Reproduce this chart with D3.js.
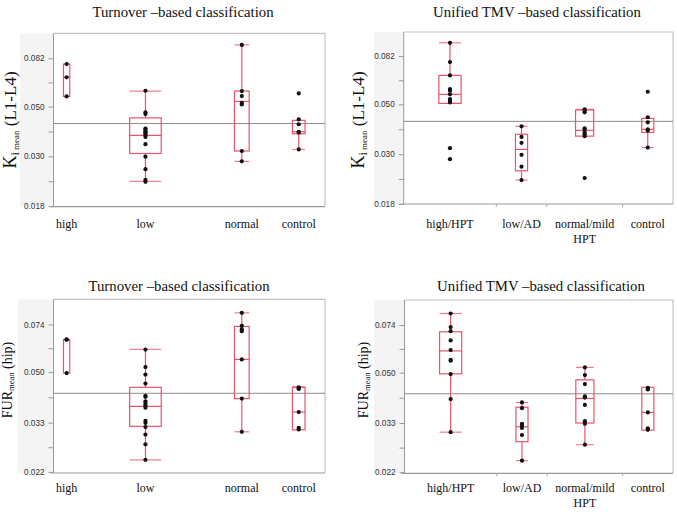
<!DOCTYPE html>
<html><head><meta charset="utf-8">
<script src="https://cdn.jsdelivr.net/npm/d3@7"></script>
<style>
body{margin:0;background:#fff;}
svg{display:block;}
</style></head>
<body>
<svg id="chart" width="677" height="512"></svg>
<script>
// ---------------- DATA ----------------
const catsTurnover = ["high", "low", "normal", "control"];
const catsUnified = ["high/HPT", "low/AD", "normal/mild HPT", "control"];
const nTurnover = [3, 15, 7, 6];
const nUnified = [11, 6, 9, 6];
const ticksKi = [0.018, 0.030, 0.050, 0.082];
const ticksFur = [0.022, 0.033, 0.050, 0.074];
const refKi = 0.0420;
const refFur = 0.0420;

// points per category
const kiTurnoverPoints = [
  [0.0773, 0.0675, 0.0555],
  [0.0588, 0.0471, 0.0463, 0.0399, 0.0395, 0.0388, 0.0383, 0.0378, 0.0373, 0.0366, 0.0340, 0.0299, 0.0263, 0.0236, 0.0231],
  [0.0941, 0.0586, 0.0557, 0.0519, 0.0511, 0.0317, 0.0285],
  [0.0572, 0.0438, 0.0417, 0.0386, 0.0383, 0.0322]
];
const kiUnifiedPoints = [
  [0.0940, 0.0771, 0.0673, 0.0585, 0.0575, 0.0554, 0.0528, 0.0519, 0.0510, 0.0319, 0.0285],
  [0.0399, 0.0358, 0.0337, 0.0298, 0.0264, 0.0230],
  [0.0475, 0.0468, 0.0461, 0.0391, 0.0384, 0.0374, 0.0368, 0.0361, 0.0235],
  [0.0569, 0.0438, 0.0416, 0.0387, 0.0382, 0.0321]
];
const furTurnoverPoints = [
  [0.0655, 0.0652, 0.0496],
  [0.0602, 0.0521, 0.0490, 0.0455, 0.0411, 0.0408, 0.0393, 0.0386, 0.0380, 0.0373, 0.0335, 0.0329, 0.0318, 0.0299, 0.0276, 0.0243],
  [0.0814, 0.0732, 0.0712, 0.0700, 0.0555, 0.0402, 0.0306],
  [0.0441, 0.0437, 0.0435, 0.0360, 0.0316, 0.0312]
];
const furUnifiedPoints = [
  [0.0814, 0.0728, 0.0704, 0.0652, 0.0602, 0.0555, 0.0552, 0.0494, 0.0402, 0.0306],
  [0.0391, 0.0373, 0.0328, 0.0323, 0.0317, 0.0299, 0.0242],
  [0.0522, 0.0490, 0.0455, 0.0411, 0.0407, 0.0383, 0.0335, 0.0328, 0.0276],
  [0.0441, 0.0437, 0.0435, 0.0360, 0.0316, 0.0312]
];

// box stats: [whiskerLow, Q1, median, Q3, whiskerHigh]
const kiTurnoverBoxes = [
  [0.0555, 0.0555, 0.0675, 0.0773, 0.0773],
  [0.0232, 0.0309, 0.0372, 0.0445, 0.0586],
  [0.0285, 0.0317, 0.0527, 0.0586, 0.0941],
  [0.0322, 0.0378, 0.0386, 0.0434, 0.0434]
];
const kiUnifiedBoxes = [
  [0.0505, 0.0505, 0.0554, 0.0673, 0.0940],
  [0.0230, 0.0253, 0.0315, 0.0368, 0.0399],
  [0.0361, 0.0361, 0.0383, 0.0472, 0.0475],
  [0.0321, 0.0375, 0.0387, 0.0433, 0.0433]
];
const furTurnoverBoxes = [
  [0.0496, 0.0496, 0.0652, 0.0654, 0.0654],
  [0.0243, 0.0320, 0.0377, 0.0441, 0.0603],
  [0.0306, 0.0402, 0.0555, 0.0728, 0.0814],
  [0.0311, 0.0311, 0.0360, 0.0441, 0.0443]
];
const furUnifiedBoxes = [
  [0.0306, 0.0495, 0.0598, 0.0700, 0.0814],
  [0.0242, 0.0283, 0.0320, 0.0376, 0.0391],
  [0.0276, 0.0330, 0.0404, 0.0471, 0.0522],
  [0.0311, 0.0311, 0.0360, 0.0443, 0.0443]
];

const titleTurnover = "Turnover \u2013based classification";
const titleUnified = "Unified TMV \u2013based classification";

// ---------------- DRAWING ----------------
const svg = d3.select("#chart");
const BOX = "#e9546b";
const serif = "'Liberation Serif','Times New Roman',serif";
const sans = "'Liberation Sans',Arial,sans-serif";

function panel(o) {
  const g = svg.append("g");
  const x0 = o.x0, x1 = o.x1, yT = o.yT, yB = o.yB;
  const y = d3.scaleLog().domain(o.domain).range([yB, yT]);
  const total = d3.sum(o.n);
  const xs = d3.scaleLinear().domain([0, total]).range([x0, x1]);
  const cum = d3.cumsum(o.n);
  const cats = o.cats.map((c, i) => {
    const a = i === 0 ? 0 : cum[i - 1];
    return {name: c, left: xs(a), right: xs(cum[i]), cx: xs(a + o.n[i] / 2)};
  });

  // gray axis region background
  g.append("rect").attr("x", o.bgX).attr("y", yT).attr("width", x0 - o.bgX).attr("height", yB - yT)
    .attr("fill", "#f4f4f4");
  // frame top/right
  g.append("path").attr("d", `M${x0},${yT}H${x1}V${yB}`).attr("fill", "none")
    .attr("stroke", "#c4c4c4").attr("stroke-width", 1.2);

  // minor ticks (geometric midpoints)
  const minor = d3.pairs(o.ticks).map(([a, b]) => Math.sqrt(a * b));
  g.append("g").attr("transform", `translate(${x0},0)`)
    .call(d3.axisLeft(y).tickValues(minor).tickFormat("").tickSize(5))
    .call(s => s.select(".domain").remove())
    .call(s => s.selectAll("line").attr("stroke", "#999"));
  // major axis
  g.append("g").attr("transform", `translate(${x0},0)`)
    .call(d3.axisLeft(y).tickValues(o.ticks).tickFormat(d3.format(".3f")).tickSize(5).tickSizeOuter(0).tickPadding(4))
    .call(s => s.select(".domain").attr("stroke", "#999").attr("d", `M0,${yT}V${yB}`))
    .call(s => s.selectAll("line").attr("stroke", "#999"))
    .call(s => s.selectAll("text").attr("font-family", sans).attr("font-size", 8.2).attr("fill", "#333"));

  // bottom axis line
  g.append("line").attr("x1", x0 - 3).attr("x2", x1).attr("y1", yB).attr("y2", yB)
    .attr("stroke", "#999").attr("stroke-width", 1.2);
  if (o.boundaryTicks) {
    g.selectAll(".bt").data(cats.slice(1)).join("line")
      .attr("x1", d => d.left).attr("x2", d => d.left).attr("y1", yB).attr("y2", yB + 3)
      .attr("stroke", "#aaa");
  }

  // reference line
  g.append("line").attr("x1", x0).attr("x2", x1).attr("y1", y(o.ref)).attr("y2", y(o.ref))
    .attr("stroke", "#8c8c8c").attr("stroke-width", 1);

  // boxes
  cats.forEach((c, i) => {
    const [wl, q1, md, q3, wh] = o.boxes[i];
    const w = (c.right - c.left) * 0.24;
    const bx = c.cx - w / 2;
    const bg = g.append("g").attr("stroke", BOX).attr("fill", "none").attr("stroke-width", 1.2);
    if (wh > q3) {
      bg.append("line").attr("x1", c.cx).attr("x2", c.cx).attr("y1", y(q3)).attr("y2", y(wh));
      bg.append("line").attr("x1", bx).attr("x2", bx + w).attr("y1", y(wh)).attr("y2", y(wh)).attr("stroke-opacity", 0.75);
    }
    if (wl < q1) {
      bg.append("line").attr("x1", c.cx).attr("x2", c.cx).attr("y1", y(q1)).attr("y2", y(wl));
      bg.append("line").attr("x1", bx).attr("x2", bx + w).attr("y1", y(wl)).attr("y2", y(wl)).attr("stroke-opacity", 0.75);
    }
    bg.append("rect").attr("x", bx).attr("y", y(q3)).attr("width", w).attr("height", y(q1) - y(q3));
    bg.append("line").attr("x1", bx).attr("x2", bx + w).attr("y1", y(md)).attr("y2", y(md));
  });

  // points
  cats.forEach((c, i) => {
    g.selectAll(null).data(o.points[i]).join("circle")
      .attr("cx", c.cx).attr("cy", d => y(d)).attr("r", 2.1).attr("fill", "#111");
  });

  // category labels
  cats.forEach(c => {
    const lines = o.wrap && c.name === "normal/mild HPT" ? ["normal/mild", "HPT"] : [c.name];
    const t = g.append("text").attr("x", c.cx).attr("y", o.labelY).attr("text-anchor", "middle")
      .attr("font-family", serif).attr("font-size", 12).attr("fill", "#111");
    lines.forEach((l, k) => t.append("tspan").attr("x", c.cx).attr("dy", k === 0 ? 0 : 15).text(l));
  });

  // title
  g.append("text").attr("x", o.titleX).attr("y", o.titleY).attr("text-anchor", "middle")
    .attr("font-family", serif).attr("font-size", 14.8).attr("fill", "#111").text(o.title);

  // y label
  const yl = g.append("text").attr("transform", `translate(${o.ylX},${o.ylY}) rotate(-90)`)
    .attr("text-anchor", "middle").attr("font-family", serif).attr("fill", "#111");
  if (o.kind === "ki") {
    yl.append("tspan").attr("font-size", 18).text("K");
    yl.append("tspan").attr("font-size", 12).attr("dy", 3).text("i");
    yl.append("tspan").attr("font-size", 9).text(" mean");
    yl.append("tspan").attr("font-size", 17).attr("dy", -3).text(" (L1-L4)");
  } else {
    yl.append("tspan").attr("font-size", 14).text("FUR");
    yl.append("tspan").attr("font-size", 8.5).attr("dy", 2).text("mean");
    yl.append("tspan").attr("font-size", 14).attr("dy", -2).text(" (hip)");
  }
}

panel({kind: "ki", x0: 53.5, x1: 325, yT: 33.3, yB: 206.7, domain: [0.0179, 0.106], bgX: 20,
  cats: catsTurnover, n: nTurnover, ticks: ticksKi, ref: refKi, points: kiTurnoverPoints, boxes: kiTurnoverBoxes,
  labelY: 228, title: titleTurnover, titleX: 183, titleY: 16.5, ylX: 16, ylY: 120});
panel({kind: "ki", x0: 403.7, x1: 673, yT: 32, yB: 204, domain: [0.018, 0.105], bgX: 374,
  cats: catsUnified, n: nUnified, ticks: ticksKi, ref: refKi, points: kiUnifiedPoints, boxes: kiUnifiedBoxes,
  labelY: 228, wrap: true, boundaryTicks: true, title: titleUnified, titleX: 537, titleY: 16.5, ylX: 364, ylY: 120});
panel({kind: "fur", x0: 53.5, x1: 325, yT: 299.3, yB: 473, domain: [0.0218, 0.091], bgX: 18,
  cats: catsTurnover, n: nTurnover, ticks: ticksFur, ref: refFur, points: furTurnoverPoints, boxes: furTurnoverBoxes,
  labelY: 492, title: titleTurnover, titleX: 179, titleY: 291, ylX: 12, ylY: 380});
panel({kind: "fur", x0: 404.5, x1: 673, yT: 300, yB: 473.3, domain: [0.0218, 0.091], bgX: 374,
  cats: catsUnified, n: nUnified, ticks: ticksFur, ref: refFur, points: furUnifiedPoints, boxes: furUnifiedBoxes,
  labelY: 492, wrap: true, boundaryTicks: true, title: titleUnified, titleX: 541, titleY: 291, ylX: 368, ylY: 380});
</script>
</body></html>
